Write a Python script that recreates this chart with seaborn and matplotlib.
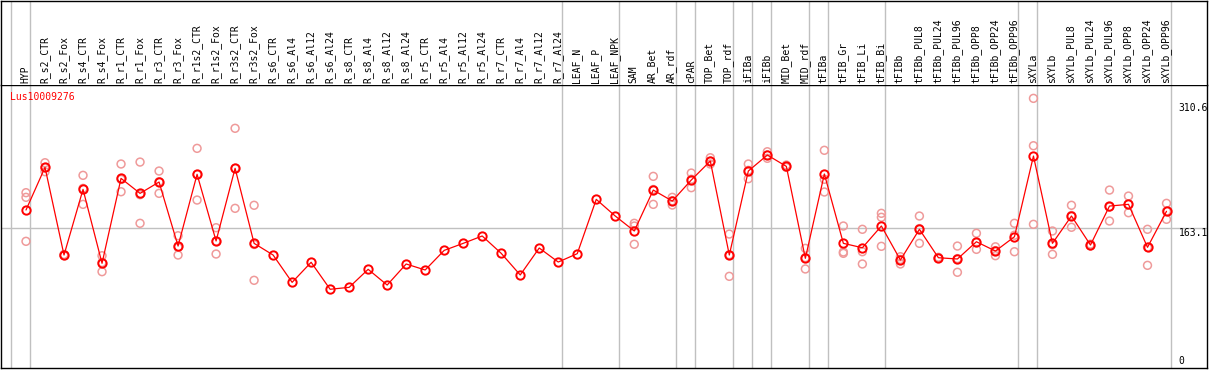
import numpy as np
import pandas as pd
import matplotlib
matplotlib.use("Agg")
import matplotlib.pyplot as plt
import seaborn as sns

gene = "Lus10009276"
labels = ["HYP", "R_s2_CTR", "R_s2_Fox", "R_s4_CTR", "R_s4_Fox", "R_r1_CTR", "R_r1_Fox",
          "R_r3_CTR", "R_r3_Fox", "R_r1s2_CTR", "R_r1s2_Fox", "R_r3s2_CTR", "R_r3s2_Fox",
          "R_s6_CTR", "R_s6_Al4", "R_s6_Al12", "R_s6_Al24", "R_s8_CTR", "R_s8_Al4", "R_s8_Al12",
          "R_s8_Al24", "R_r5_CTR", "R_r5_Al4", "R_r5_Al12", "R_r5_Al24", "R_r7_CTR", "R_r7_Al4",
          "R_r7_Al12", "R_r7_Al24", "LEAF_N", "LEAF_P", "LEAF_NPK", "SAM", "AR_Bet", "AR_rdf",
          "cPAR", "TOP_Bet", "TOP_rdf", "iFIBa", "iFIBb", "MID_Bet", "MID_rdf", "tFIBa",
          "tFIB_Gr", "tFIB_Li", "tFIB_Bi", "tFIBb", "tFIBb_PUL8", "tFIBb_PUL24", "tFIBb_PUL96",
          "tFIBb_OPP8", "tFIBb_OPP24", "tFIBb_OPP96", "sXYLa", "sXYLb", "sXYLb_PUL8",
          "sXYLb_PUL24", "sXYLb_PUL96", "sXYLb_OPP8", "sXYLb_OPP24", "sXYLb_OPP96"]

means = [184.4, 234.8, 131.2, 208.8, 121.4, 221.8, 204.1, 217.5, 141.8, 226.6, 147.8, 233.7, 145.0,
         131.2, 98.9, 122.6, 90.7, 93.0, 114.3, 95.7, 120.6, 113.5, 136.7, 145.0, 153.7, 133.2,
         107.6, 139.5, 122.9, 132.8, 197.0, 177.3, 159.6, 208.0, 195.0, 219.9, 242.3, 131.2,
         230.5, 249.4, 236.0, 127.3, 227.0, 145.0, 139.8, 165.5, 125.3, 161.6, 128.0, 126.5,
         146.9, 135.9, 152.8, 248.2, 145.0, 177.3, 143.0, 189.1, 191.1, 140.3, 182.9]

nan = np.nan
rep_a = [204.9, 240.3, 131.8, 225.4, 130.4, 238.8, 241.1, 230.5, 154.0, 257.3, 163.5, 281.0, 190.0,
         nan, nan, nan, nan, nan, nan, nan, nan, nan, nan, nan, nan, nan, nan, nan, nan, nan, nan, nan,
         168.7, 224.2, 199.4, 228.1, 246.2, 156.0, 238.8, 253.3, 237.6, 139.1, 255.0, 165.5, 161.6,
         180.5, 129.2, 177.3, 128.5, 141.8, 156.9, 140.9, 168.7, 316.4, 159.6, 190.0, 144.0, 208.0,
         200.9, 161.6, 192.3]
rep_b = [199.4, 229.7, 130.6, 191.1, 111.5, 206.0, 168.7, 204.1, 131.2, 196.2, 132.4, 186.4, 101.3,
         nan, nan, nan, nan, nan, nan, nan, nan, nan, nan, nan, nan, nan, nan, nan, nan, nan, nan, nan,
         165.5, 191.1, 190.3, 210.8, 238.8, 106.0, 221.4, 245.5, 234.8, 114.7, 220.7, 134.8, 135.1,
         175.8, 120.6, 145.0, 127.5, 110.8, 137.9, 130.4, 135.1, 260.4, 132.0, 164.0, 142.0, 171.4,
         181.2, 119.0, 173.4]
rep_c = [147.4, 234.5, 131.2, 210.0, 122.3, 220.6, 202.5, 217.9, 140.2, 226.3, 147.5, 233.7, 143.7,
         nan, nan, nan, nan, nan, nan, nan, nan, nan, nan, nan, nan, nan, nan, nan, nan, nan, nan, nan,
         143.9, 208.7, 195.3, 220.8, 242.0, 131.6, 231.3, 249.4, 235.6, 128.1, 205.7, 133.2, 120.6,
         141.5, 126.0, 162.5, 128.0, 127.0, 146.0, 136.4, 154.6, 167.5, 143.4, 178.0, 143.0, 188.0,
         191.3, 140.3, 183.0]

group_starts = [0, 1, 29, 32, 35, 36, 38, 39, 40, 42, 43, 46, 53, 54, 61]
ytick_values = [0, 163.1, 310.6]
ytick_labels = ["0", "163.1", "310.6"]

# ---- data frames ----
idx = np.arange(len(labels))
df_mean = pd.DataFrame({"pos": idx, "value": means})
df_rep = pd.DataFrame({"pos": np.concatenate([idx, idx, idx]),
                       "value": np.concatenate([rep_a, rep_b, rep_c])}).dropna()

sns.set_style("white")
plt.rcParams["font.family"] = ["DejaVu Sans Mono", "DejaVu Sans"]

W, H = 1209, 370
fig = plt.figure(figsize=(W / 100, H / 100), dpi=100)
ax = fig.add_axes([1 / W, 2 / H, 1206 / W, 283 / H])
hx = fig.add_axes([1 / W, 285 / H, 1206 / W, 84.5 / H], sharex=ax)

grid_c = "#c0c0c0"
for g in group_starts:
    ax.axvline(g - 0.789, color=grid_c, lw=1.0, zorder=0)
    hx.axvline(g - 0.789, color=grid_c, lw=1.0, zorder=0)
ax.axhline(163.1, color=grid_c, lw=1.0, zorder=0)

sns.scatterplot(data=df_rep, x="pos", y="value", ax=ax, marker="o", s=32,
                facecolors="none", edgecolors="#ef9a9a", linewidth=1.1, zorder=2, legend=False)
sns.lineplot(data=df_mean, x="pos", y="value", ax=ax, color="red", lw=0.9,
             marker="o", markersize=6, markerfacecolor="none", markeredgecolor="red",
             markeredgewidth=1.4, zorder=3, legend=False)

ax.set_xlim(-1.315, 62.13)
ax.set_ylim(-2.36, 332.2)
ax.set_xlabel("")
ax.set_ylabel("")
ax.set_xticks([])
ax.yaxis.tick_right()
ax.set_yticks(ytick_values)
ax.set_yticklabels(ytick_labels)
ax.tick_params(axis="y", length=0, pad=-20.4, labelsize=7, colors="black")
for lab, va in zip(ax.get_yticklabels(), ["bottom", "top", "top"]):
    lab.set_va(va)

ax.text(9 / 1206, 1 - 6.5 / 283, gene, transform=ax.transAxes, color="red",
        fontsize=7, ha="left", va="top")

for sp in ax.spines.values():
    sp.set_color("black")
    sp.set_linewidth(1.0)

# header with rotated column labels
hx.set_ylim(0, 1)
hx.set_yticks([])
hx.tick_params(axis="x", length=0, labelbottom=False)
for i, lab in enumerate(labels):
    hx.text(i - 0.03, 2.0 / 84.5, lab, rotation=90, ha="center", va="bottom",
            fontsize=7, color="black")
for sp in hx.spines.values():
    sp.set_color("black")
    sp.set_linewidth(1.0)
hx.spines["bottom"].set_visible(False)

fig.savefig("out.png", dpi=100)
